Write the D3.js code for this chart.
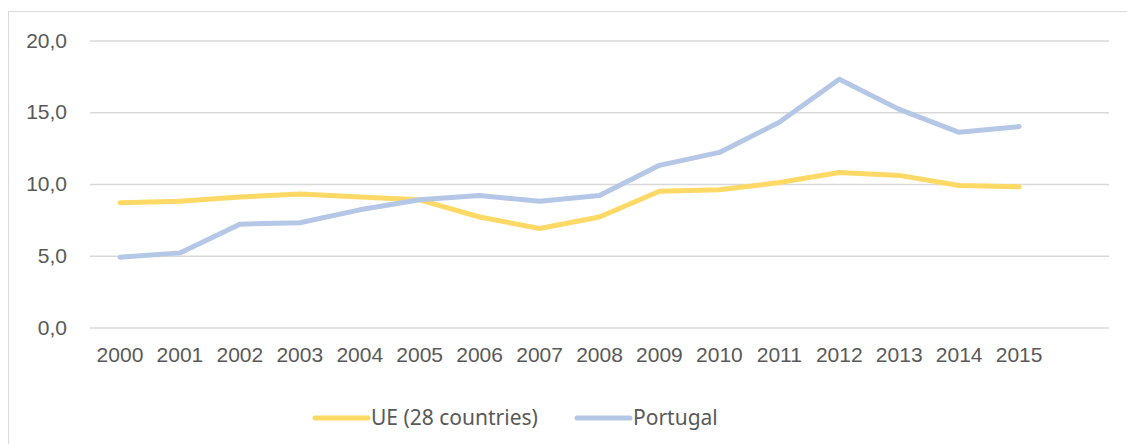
<!DOCTYPE html>
<html>
<head>
<meta charset="utf-8">
<script src="https://cdn.jsdelivr.net/npm/d3@7"></script>
<style>
  body { margin: 0; background: #fff; }
  svg { display: block; font-family: "Noto Sans", "Open Sans", sans-serif; }
</style>
</head>
<body>
<div id="chart"></div>
<script>
// chart data
var years = ["2000","2001","2002","2003","2004","2005","2006","2007","2008","2009","2010","2011","2012","2013","2014","2015"];
var ueValues = [8.7, 8.8, 9.1, 9.3, 9.1, 8.9, 7.7, 6.9, 7.7, 9.5, 9.6, 10.1, 10.8, 10.6, 9.9, 9.8];
var ptValues = [4.9, 5.2, 7.2, 7.3, 8.2, 8.9, 9.2, 8.8, 9.2, 11.3, 12.2, 14.3, 17.3, 15.2, 13.6, 14.0];
var yTicks = [0, 5, 10, 15, 20];
var seriesNames = ["UE (28 countries)", "Portugal"];
var seriesColors = ["#FFD966", "#B4C7E7"];

var W = 1127, H = 444;
var margin = {top: 40.5, right: 18, bottom: 116.5, left: 90};
var width = W - margin.left - margin.right,
    height = H - margin.top - margin.bottom;
var fontSize = "21px";

var svg = d3.select("#chart").append("svg")
    .attr("width", W)
    .attr("height", H);

// outer frame
svg.append("rect")
    .attr("x", 8.5).attr("y", 11.5)
    .attr("width", W + 20).attr("height", H + 20)
    .attr("fill", "none")
    .attr("stroke", "#d9d9d9")
    .attr("stroke-width", 1);

var g = svg.append("g")
    .attr("transform", "translate(" + margin.left + "," + margin.top + ")");

// one empty slot after 2015, like the original
var xScale = d3.scaleBand()
    .domain(years.concat([""]))
    .range([0, width]);

var yScale = d3.scaleLinear()
    .domain([0, 20])
    .range([height, 0]);

var fmt = function(d) { return d3.format(".1f")(d).replace(".", ","); };

// grid lines
g.append("g")
    .attr("class", "grid")
    .call(d3.axisLeft(yScale).tickValues(yTicks).tickSize(-width).tickFormat(""))
    .call(function(s) {
      s.select(".domain").remove();
      s.selectAll("line").attr("stroke", "#d9d9d9").attr("stroke-width", 1.3);
    });

// y axis labels
g.append("g")
    .attr("class", "y axis")
    .call(d3.axisLeft(yScale).tickValues(yTicks).tickSize(0).tickPadding(23).tickFormat(fmt))
    .call(function(s) {
      s.select(".domain").remove();
      s.selectAll("text")
        .attr("fill", "#595959")
        .style("font-size", fontSize);
    });

// x axis labels
g.append("g")
    .attr("class", "x axis")
    .attr("transform", "translate(0," + height + ")")
    .call(d3.axisBottom(xScale).tickSize(0).tickPadding(20))
    .call(function(s) {
      s.select(".domain").remove();
      s.selectAll("text")
        .attr("fill", "#595959")
        .style("font-size", fontSize);
    });

var line = d3.line()
    .x(function(d, i) { return xScale(years[i]) + xScale.bandwidth() / 2; })
    .y(function(d) { return yScale(d); });

[ueValues, ptValues].forEach(function(vals, k) {
  g.append("path")
      .datum(vals)
      .attr("fill", "none")
      .attr("stroke", seriesColors[k])
      .attr("stroke-width", 5)
      .attr("stroke-linejoin", "round")
      .attr("stroke-linecap", "round")
      .attr("d", line);
});

// legend
var legendX = [315, 577];
var legend = svg.append("g").attr("transform", "translate(0,418)");
seriesNames.forEach(function(name, k) {
  legend.append("line")
      .attr("x1", legendX[k]).attr("x2", legendX[k] + 53)
      .attr("y1", 0).attr("y2", 0)
      .attr("stroke", seriesColors[k])
      .attr("stroke-width", 5)
      .attr("stroke-linecap", "round");
  legend.append("text")
      .attr("x", legendX[k] + 56)
      .attr("y", 0)
      .attr("dy", "0.35em")
      .attr("fill", "#595959")
      .style("font-size", fontSize)
      .text(name);
});
</script>
</body>
</html>
